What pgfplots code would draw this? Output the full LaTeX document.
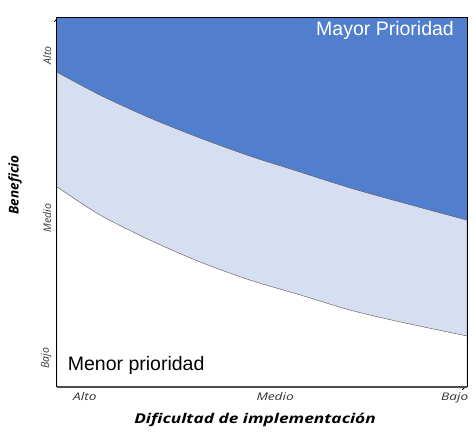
\documentclass[border=0pt]{standalone}
\usepackage{fontspec}
\setmainfont{Open Sans}
\newfontfamily\arial{Liberation Sans}
\usepackage{pgfplots}
\pgfplotsset{compat=1.18}
\usetikzlibrary{arrows.meta}
\definecolor{dblue}{RGB}{82,127,205}
\definecolor{lblue}{RGB}{214,223,241}
\definecolor{curve}{RGB}{90,75,75}
\begin{document}
\begin{tikzpicture}
\begin{axis}[
  scale only axis, width=410pt, height=370pt,
  xmin=0, xmax=10, ymin=0, ymax=10,
  axis lines=left,
  axis line style={-{To[length=5pt,width=6pt]}, line width=1pt},
  tick style={draw=none},
  xtick={0.68,5.32,9.7}, xticklabels={Alto,Medio,Bajo},
  ytick={0.86,4.65,9.05}, yticklabels={Bajo,Medio,Alto},
  ticklabel style={font=\fontsize{10.5}{12}\selectfont\itshape, text=black!80},
  xticklabel style={xscale=1.3},
  yticklabel style={rotate=90, anchor=south, xshift=-3pt},
  xlabel={Dificultad de implementación},
  ylabel={Beneficio},
  label style={font=\fontsize{13.5}{15}\selectfont\bfseries\itshape},
  xlabel style={at={(rel axis cs:0.483,-0.089)}, anchor=center, xscale=1.28},
  ylabel style={at={(rel axis cs:-0.102,0.546)}, anchor=center},
  clip=false,
]
\addplot[fill=dblue, draw=none] coordinates {(0,10) (10,10)} \closedcycle;
\addplot[fill=lblue, draw=curve, thin, smooth] coordinates {
 (0,8.51) (1.05,7.89) (2.27,7.27) (3.49,6.73) (4.71,6.24) (5.93,5.81) (7.15,5.38) (8.37,5.0) (10,4.51)} \closedcycle;
\addplot[fill=white, draw=curve, thin, smooth] coordinates {
 (0,5.41) (1.05,4.65) (2.27,3.97) (3.49,3.38) (4.71,2.89) (5.93,2.49) (7.15,2.08) (8.37,1.76) (10,1.38)} \closedcycle;
\draw[black, line width=1pt] (rel axis cs:0,1) -- (rel axis cs:1,1) -- (rel axis cs:1,0);
\draw[black, line width=1pt] (rel axis cs:0,0) -- (rel axis cs:0,1);
\draw[black!70, line width=1.5pt] (rel axis cs:0,0) -- (rel axis cs:1,0);
\node[text=white, font=\arial\fontsize{19.5}{21}\selectfont] at (rel axis cs:0.8,0.965) {Mayor Prioridad};
\node[text=black, font=\arial\fontsize{19.5}{21}\selectfont] at (rel axis cs:0.193,0.057) {Menor prioridad};
\coordinate (bl) at (rel axis cs:-0.139,-0.1216);
\coordinate (tr) at (rel axis cs:1.0195,1.046);
\end{axis}
\pgfresetboundingbox
\path[use as bounding box] (bl) rectangle (tr);
\end{tikzpicture}
\end{document}
